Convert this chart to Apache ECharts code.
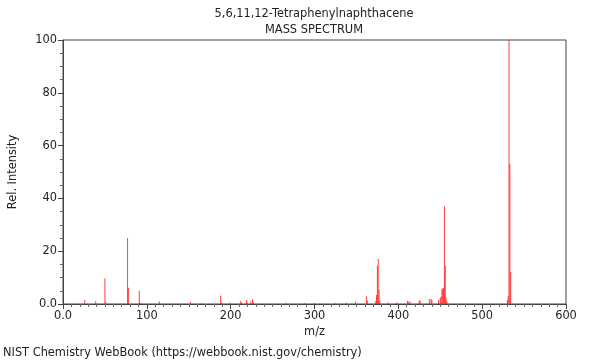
<!DOCTYPE html>
<html>
<head>
<meta charset="utf-8">
<script src="https://cdn.jsdelivr.net/npm/echarts@6/dist/echarts.min.js"></script>
<style>
html,body{margin:0;padding:0;background:#fff;}
#chart{width:600px;height:360px;}
</style>
</head>
<body>
<div id="chart"></div>
<script>
const titleText = "5,6,11,12-Tetraphenylnaphthacene";
const subtitleText = "MASS SPECTRUM";
const footerText = "NIST Chemistry WebBook (https://webbook.nist.gov/chemistry)";
const xAxisName = "m/z";
const yAxisName = "Rel. Intensity";

const mz = [26, 39, 50, 51, 77, 78, 91, 92, 115, 152, 165, 188, 189, 199, 212, 213, 219, 220, 224, 226, 227,
  266, 288, 300, 325, 338, 349, 362, 363, 373, 374, 375, 376, 377, 378, 388, 398, 411, 412, 414,
  425, 426, 437, 439, 440, 448, 450, 451, 452, 453, 454, 455, 456, 457, 458, 530, 531, 532, 533, 534];
const intensity = [1.5, 1.0, 9.7, 0.8, 25.0, 6.2, 5.0, 0.6, 0.9, 0.8, 0.3, 3.1, 0.6, 0.5, 1.1, 0.5, 1.5, 0.5, 1.0, 1.8, 0.7,
  0.5, 0.4, 0.4, 0.3, 0.5, 0.9, 2.9, 1.3, 1.0, 3.4, 14.5, 17.0, 5.5, 1.2, 0.6, 0.6, 1.1, 0.8, 1.0,
  1.3, 1.2, 1.9, 1.9, 1.4, 1.5, 2.3, 2.8, 5.6, 6.0, 6.2, 37.0, 14.5, 2.5, 0.9, 1.5, 3.0, 100.0, 53.0, 12.0];

const data = mz.map((m, i) => [m, intensity[i]]);
const fontFam = "DejaVu Sans";
const fs = 11.4;
const fmt = v => (v === 0 ? "0.0" : String(v));

const chart = echarts.init(document.getElementById('chart'), null, {renderer: 'canvas'});
chart.setOption({
  animation: false,
  backgroundColor: '#ffffff',
  title: [
    {text: titleText, left: 314, top: 9, padding: 0, textAlign: 'center',
      textStyle: {fontFamily: fontFam, fontSize: fs, fontWeight: 'normal', color: '#222'}},
    {text: subtitleText, left: 314, top: 25, padding: 0, textAlign: 'center',
      textStyle: {fontFamily: fontFam, fontSize: fs, fontWeight: 'normal', color: '#222'}},
    {text: footerText, left: 3, top: 348, padding: 0,
      textStyle: {fontFamily: fontFam, fontSize: fs, fontWeight: 'normal', color: '#222'}}
  ],
  grid: {left: 62, right: 34, top: 40, bottom: 56, show: true, borderColor: '#444', borderWidth: 1, backgroundColor: 'transparent'},
  xAxis: {
    type: 'value', min: 0, max: 600, interval: 100,
    name: xAxisName, nameLocation: 'middle', nameGap: 22,
    nameTextStyle: {fontFamily: fontFam, fontSize: fs, color: '#222'},
    axisLine: {show: true, lineStyle: {color: '#444'}},
    axisTick: {show: true, length: 5, lineStyle: {color: '#444'}},
    minorTick: {show: true, splitNumber: 10, length: 3, lineStyle: {color: '#666'}},
    splitLine: {show: false},
    axisLabel: {fontFamily: fontFam, fontSize: fs, color: '#222', margin: 7, formatter: fmt}
  },
  yAxis: {
    type: 'value', min: 0, max: 100, interval: 20,
    name: yAxisName, nameLocation: 'middle', nameGap: 44, nameRotate: 90,
    nameTextStyle: {fontFamily: fontFam, fontSize: fs, color: '#222'},
    axisLine: {show: true, lineStyle: {color: '#444'}},
    axisTick: {show: true, length: 5, lineStyle: {color: '#444'}},
    minorTick: {show: true, splitNumber: 4, length: 3, lineStyle: {color: '#666'}},
    splitLine: {show: false},
    axisLabel: {fontFamily: fontFam, fontSize: fs, color: '#222', margin: 6, formatter: fmt}
  },
  series: [{
    type: 'bar', data: data, barWidth: 1, barGap: '-100%',
    itemStyle: {color: 'rgba(255,30,30,0.85)'},
    emphasis: {disabled: true}
  }]
});
</script>
</body>
</html>
